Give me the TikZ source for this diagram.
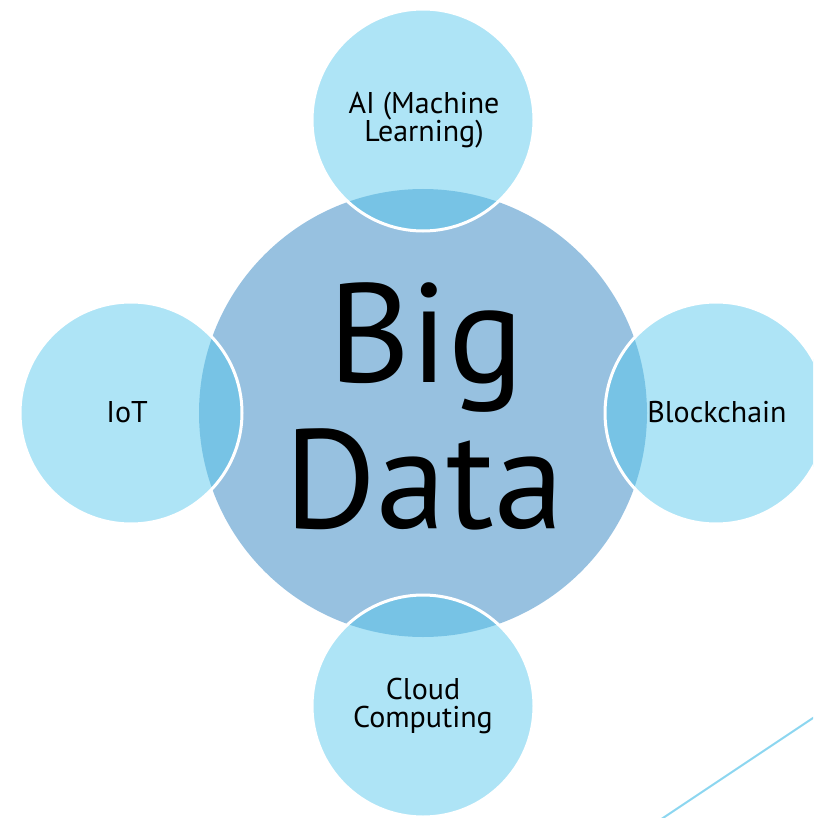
\documentclass[tikz,border=0pt]{standalone}
\usepackage{fontspec}
\setmainfont{PT Sans}
\begin{document}
\definecolor{coreblue}{RGB}{151,193,224}
\definecolor{satblue}{RGB}{86,199,236}
\definecolor{lineblue}{RGB}{140,214,240}
\begin{tikzpicture}[x=1pt,y=-1pt,
  core/.style={circle,fill=coreblue,minimum size=448pt,inner sep=0pt},
  sat/.style={circle,fill=satblue,fill opacity=0.48,draw=white,line width=3pt,minimum size=222pt,inner sep=0pt},
  label/.style={anchor=base,font=\fontsize{30}{28}\selectfont,align=center,text=black,inner sep=0pt},
  bigtext/.style={anchor=base,font=\fontsize{141}{146}\selectfont,text=black}]
\useasboundingbox (0,0) rectangle (813,818);
\begin{scope}
\clip (0,0) rectangle (813,818);
% central disc
\node[core] (core) at (423,413) {};
% satellite discs
\node[sat] (ai) at (423,120) {};
\node[sat] (iot) at (131,413) {};
\node[sat] (chain) at (716,413) {};
\node[sat] (cloud) at (423,706) {};
% decorative rule in the corner
\coordinate (r1) at (648,828);
\coordinate (r2) at (828,708);
\draw[lineblue,line width=2pt] (r1) -- (r2);
\end{scope}
% labels (two-line labels are anchored on their last baseline)
\node[bigtext] (big) at (426,382) {Big};
\node[bigtext] (data) at (424,528) {Data};
\node[label] (tai) at (424,142) {AI (Machine\\Learning)};
\node[label] (tiot) at (127,422) {IoT};
\node[label] (tchain) at (717,422) {Blockchain};
\node[label] (tcl) at (423,727) {Cloud\\Computing};
\end{tikzpicture}
\end{document}
